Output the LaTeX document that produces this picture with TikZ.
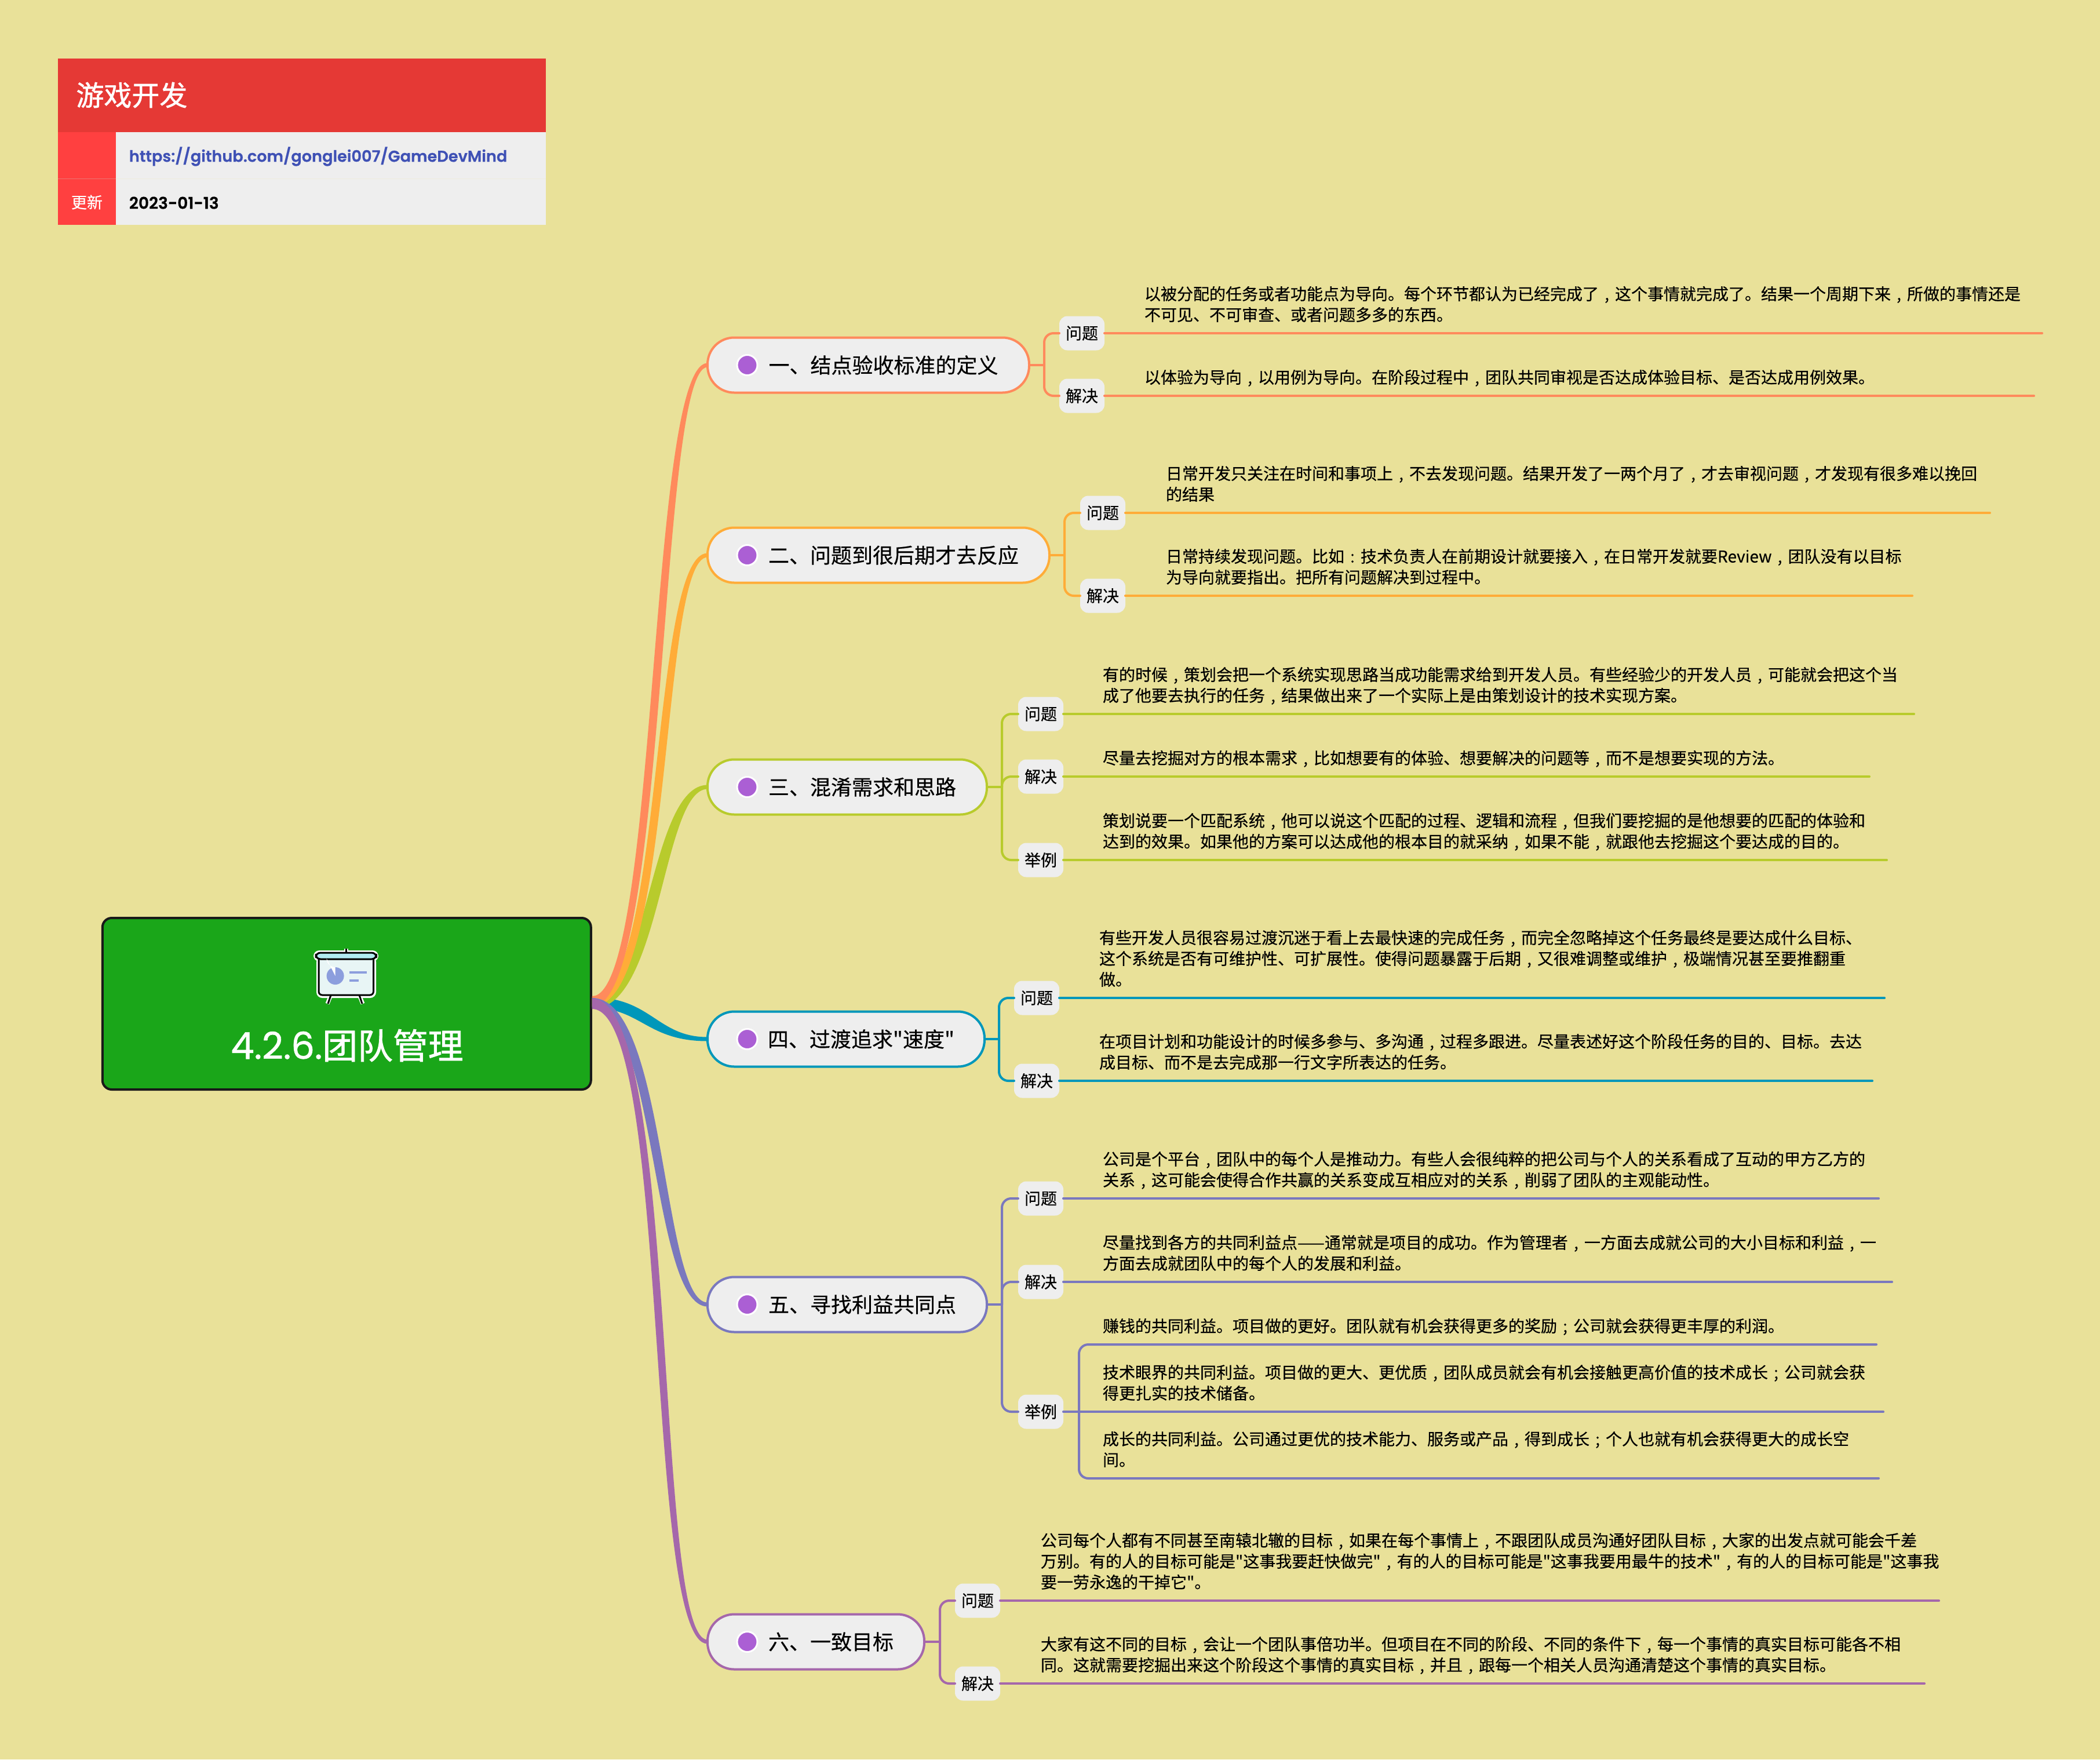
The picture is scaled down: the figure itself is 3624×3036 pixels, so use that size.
\documentclass[tikz,border=0pt]{standalone}
\usepackage{fontspec}
\setmainfont{Noto Sans CJK SC}[UprightFeatures={FakeBold=0.4}]
\newfontfamily\geofont{Poppins SemiBold}[FakeBold=0.5]
\newfontfamily\geolight{Poppins}[FakeBold=1.0]
\newfontfamily\heavyfont{Noto Sans CJK SC}[FakeBold=1.2]
\newfontfamily\qfont{Noto Sans CJK SC}[FakeBold=0.4]
\newcommand{\qq}{{\qfont"}}
\usetikzlibrary{calc}
\definecolor{bgc}{HTML}{E9E199}
\definecolor{redA}{HTML}{E53935}
\definecolor{redB}{HTML}{FF4040}
\definecolor{cellc}{HTML}{EEEEEE}
\definecolor{urlc}{HTML}{3F51B5}
\definecolor{rootc}{HTML}{1AA619}
\definecolor{cA}{HTML}{FF8A5C}
\definecolor{cB}{HTML}{FFAC38}
\definecolor{cC}{HTML}{B8CB2C}
\definecolor{cD}{HTML}{0097BA}
\definecolor{cE}{HTML}{7A78BE}
\definecolor{cF}{HTML}{A567AB}
\definecolor{dotc}{HTML}{AB5FD4}
\definecolor{barc}{HTML}{B2EBF2}
\definecolor{boardc}{HTML}{E8F5F5}
\definecolor{piec}{HTML}{8C9EDD}
\tikzset{
  rootbox/.style={draw=black!90,line width=2pt,fill=rootc,rounded corners=8pt,minimum width=421.5pt,minimum height=148pt,inner sep=0pt,outer sep=0pt},
  roottitle/.style={text=white,font=\heavyfont\fontsize{30.4}{36}\selectfont,inner sep=0pt},
  pill/.style={line width=2pt,fill=cellc,rounded corners=23pt,minimum height=47.5pt,inner sep=0pt,outer sep=0pt,font=\fontsize{18}{22}\selectfont,text=black},
  dotmark/.style={circle,draw=white,fill=dotc,line width=1.5pt,minimum size=17.5pt,inner sep=0pt},
  sublabel/.style={fill=cellc,rounded corners=7pt,minimum width=39pt,minimum height=29.5pt,inner sep=0pt,outer sep=0pt,font=\fontsize{14}{18}\selectfont,text=black},
  detail/.style={inner sep=0pt,outer sep=0pt,align=left,anchor=south west,font=\fontsize{14}{18}\selectfont,text=black},
  twig/.style={line width=2pt,line cap=round},
}
% full-width punctuation centred in its cell, as the reference prints it
\catcode`\，=\active \def，{\hbox to 1em{\hss,\hss}}
\catcode`\；=\active \def；{\hbox to 1em{\hss;\hss}}
\catcode`\：=\active \def：{\hbox to 1em{\hss:\hss}}
% branch pill: name, left, right, y, colour, text
\newcommand{\branchnode}[6]{%
  \node[pill,draw=#5,minimum width={(#3-#2)*0.5pt}] (#1) at ({(#2+#3)/2},#4) {\hspace*{26pt}#6};
  \node[dotmark] (#1d) at ([xshift=34.25pt]#1.west) {};
}
% leaf: name, label, label x, y, line end x, colour, text x, text, trunk coord
\newcommand{\leaf}[9]{%
  \node[sublabel] (#1) at (#3,#4) {#2};
  \node[detail] (#1t) at (#7,#4-10.6) {#8\strut};
  \coordinate (#1e) at (#5,#4);
  \draw[twig,#6] (#1.east) -- (#1e);
  \draw[twig,#6,rounded corners=8pt] (#9) |- (#1.west);
}
% tapered main connector: colour, target, target y, c1x, c2x, k, start y
\newcommand{\tcurve}[7]{%
  \fill[#1] ([xshift=1pt,yshift={(1732-#7+9)*0.5pt}]root.east)
    .. controls (#4-#6,#7-9) and (#5-#6,#3-3.5) .. ([yshift=1.75pt]#2.west)
    -- ([yshift=-1.75pt]#2.west)
    .. controls (#5+#6,#3+3.5) and (#4+#6,#7+9) .. ([xshift=1pt,yshift={(1732-#7-9)*0.5pt}]root.east) -- cycle;
}
\begin{document}
\begin{tikzpicture}[x=0.5pt,y=-0.5pt]
\useasboundingbox (0,0) rectangle (3624,3036);
\fill[bgc] (0,0) rectangle (3624,3036);
% header card
\fill[redA] (100,100.7) rectangle (942,228);
\fill[redB] (100,228) rectangle (199.5,388);
\fill[cellc] (199.5,228) rectangle (942,388);
\draw[redA!70!white,line width=0.3pt] (100,308) -- (199.5,308);
\draw[bgc!20!cellc,line width=0.3pt] (199.5,308) -- (942,308);
\node[anchor=west,inner sep=0pt,text=white,font=\heavyfont\fontsize{24}{28}\selectfont] (hdtitle) at (131,164) {游戏开发};
\node[anchor=west,inner sep=0pt,text=urlc,font=\geofont\fontsize{13.6}{18}\selectfont] (hdurl) at (222.5,270) {https://github.com/gonglei007/GameDevMind};
\node[anchor=center,inner sep=0pt,text=white,font=\fontsize{13.5}{18}\selectfont] (hdupd) at (150,349) {更新};
\node[anchor=west,inner sep=0pt,text=black,font=\geofont\fontsize{14}{18}\selectfont] (hddate) at (222.5,350) {2023-01-13};
% root
\node[rootbox] (root) at (598.3,1732) {};
\node[roottitle] (roottext) at (599,1804) {{\geolight\fontsize{32}{36}\selectfont 4.2.6.}团队管理};
% icon
\begin{scope}[line join=round]
\draw[white,line width=3.5pt] (597,1637) -- (597,1650);
\draw[white,line width=3.5pt] (571,1717) -- (565,1732) (620,1717) -- (626,1732);
\fill[white,rounded corners=5pt] (541,1640) rectangle (653,1659);
\fill[white,rounded corners=5pt] (546,1650) rectangle (649,1722);
\draw[black,line width=1.5pt] (597,1637) -- (597,1644);
\draw[black,line width=1.5pt] (571,1717) -- (566,1732) (620,1717) -- (625,1732);
\draw[black,fill=boardc,line width=1.5pt,rounded corners=3pt] (550,1650) rectangle (644.5,1717);
\draw[black,fill=barc,line width=1.5pt,rounded corners=4pt] (545,1644) rectangle (649.5,1655);
\fill[piec] (578.6,1684) ellipse [x radius=15,y radius=15];
\fill[white] (578.6,1684) -- (578.6,1669) arc[start angle=90,end angle=0,x radius=-15,y radius=15] -- cycle;
\fill[piec] (602.5,1675.7) rectangle (632.6,1679.7);
\fill[piec] (602.5,1689.6) rectangle (619,1693.6);
\end{scope}
% branches
\branchnode{bA}{1221}{1776}{630}{cA}{一、结点验收标准的定义}
\branchnode{bB}{1221}{1811}{958}{cB}{二、问题到很后期才去反应}
\branchnode{bC}{1221}{1703}{1358}{cC}{三、混淆需求和思路}
\branchnode{bD}{1221}{1699}{1793}{cD}{四、过渡追求\qq{}速度\qq{}}
\branchnode{bE}{1221}{1703}{2251}{cE}{五、寻找利益共同点}
\branchnode{bF}{1221}{1595}{2833}{cF}{六、一致目标}
% main connectors
\tcurve{cD}{bD}{1793}{1115}{1125}{-9}{1730}
\tcurve{cC}{bC}{1358}{1130}{1132}{11}{1732}
\tcurve{cB}{bB}{958}{1155}{1130}{8.5}{1728}
\tcurve{cA}{bA}{630}{1145}{1127}{8.5}{1728}
\tcurve{cE}{bE}{2251}{1141}{1133}{-9}{1731}
\tcurve{cF}{bF}{2833}{1165}{1120}{-8}{1732}
% twig trunks
\coordinate (trA) at (1802,630);
\coordinate (trB) at (1837,958);
\coordinate (trC) at (1729,1358);
\coordinate (trD) at (1724,1793);
\coordinate (trE) at (1729,2251);
\coordinate (trF) at (1622,2833);
\draw[twig,cA] (bA.east) -- (trA);
\draw[twig,cB] (bB.east) -- (trB);
\draw[twig,cC] (bC.east) -- (trC);
\draw[twig,cD] (bD.east) -- (trD);
\draw[twig,cE] (bE.east) -- (trE);
\draw[twig,cF] (bF.east) -- (trF);
% leaves
\leaf{aA}{问题}{1867}{575}{3524}{cA}{1975}{以被分配的任务或者功能点为导向。每个环节都认为已经完成了，这个事情就完成了。结果一个周期下来，所做的事情还是\\不可见、不可审查、或者问题多多的东西。}{trA}
\leaf{aB}{解决}{1867}{683}{3510}{cA}{1975}{以体验为导向，以用例为导向。在阶段过程中，团队共同审视是否达成体验目标、是否达成用例效果。}{trA}
\leaf{bAa}{问题}{1903}{885}{3434}{cB}{2012}{日常开发只关注在时间和事项上，不去发现问题。结果开发了一两个月了，才去审视问题，才发现有很多难以挽回\\的结果}{trB}
\leaf{bBa}{解决}{1903}{1028}{3300}{cB}{2012}{日常持续发现问题。比如：技术负责人在前期设计就要接入，在日常开发就要Review，团队没有以目标\\为导向就要指出。把所有问题解决到过程中。}{trB}
\leaf{cAa}{问题}{1796}{1232}{3303}{cC}{1903}{有的时候，策划会把一个系统实现思路当成功能需求给到开发人员。有些经验少的开发人员，可能就会把这个当\\成了他要去执行的任务，结果做出来了一个实际上是由策划设计的技术实现方案。}{trC}
\leaf{cBa}{解决}{1796}{1340}{3226}{cC}{1903}{尽量去挖掘对方的根本需求，比如想要有的体验、想要解决的问题等，而不是想要实现的方法。}{trC}
\leaf{cCa}{举例}{1796}{1484}{3256}{cC}{1903}{策划说要一个匹配系统，他可以说这个匹配的过程、逻辑和流程，但我们要挖掘的是他想要的匹配的体验和\\达到的效果。如果他的方案可以达成他的根本目的就采纳，如果不能，就跟他去挖掘这个要达成的目的。}{trC}
\leaf{dAa}{问题}{1789}{1722}{3252}{cD}{1897}{有些开发人员很容易过渡沉迷于看上去最快速的完成任务，而完全忽略掉这个任务最终是要达成什么目标、\\这个系统是否有可维护性、可扩展性。使得问题暴露于后期，又很难调整或维护，极端情况甚至要推翻重\\做。}{trD}
\leaf{dBa}{解决}{1789}{1865}{3231}{cD}{1897}{在项目计划和功能设计的时候多参与、多沟通，过程多跟进。尽量表述好这个阶段任务的目的、目标。去达\\成目标、而不是去完成那一行文字所表达的任务。}{trD}
\leaf{eAa}{问题}{1796}{2068}{3242}{cE}{1903}{公司是个平台，团队中的每个人是推动力。有些人会很纯粹的把公司与个人的关系看成了互动的甲方乙方的\\关系，这可能会使得合作共赢的关系变成互相应对的关系，削弱了团队的主观能动性。}{trE}
\leaf{eBa}{解决}{1796}{2212}{3265}{cE}{1903}{尽量找到各方的共同利益点——通常就是项目的成功。作为管理者，一方面去成就公司的大小目标和利益，一\\方面去成就团队中的每个人的发展和利益。}{trE}
\leaf{eCa}{举例}{1796}{2436}{3250}{cE}{1903}{技术眼界的共同利益。项目做的更大、更优质，团队成员就会有机会接触更高价值的技术成长；公司就会获\\得更扎实的技术储备。}{trE}
\coordinate (eSub) at (1862,2436);
\coordinate (eUp) at (3238,2320);
\coordinate (eDn) at (3242,2551);
\draw[twig,cE,rounded corners=8pt] (eSub) |- (eUp);
\draw[twig,cE,rounded corners=8pt] (eSub) |- (eDn);
\node[detail] (eCb) at (1903,2320-10.6) {赚钱的共同利益。项目做的更好。团队就有机会获得更多的奖励；公司就会获得更丰厚的利润。\strut};
\node[detail] (eCc) at (1903,2551-10.6) {成长的共同利益。公司通过更优的技术能力、服务或产品，得到成长；个人也就有机会获得更大的成长空\\间。\strut};
\leaf{fAa}{问题}{1687}{2762}{3346}{cF}{1796}{公司每个人都有不同甚至南辕北辙的目标，如果在每个事情上，不跟团队成员沟通好团队目标，大家的出发点就可能会千差\\万别。有的人的目标可能是\qq{}这事我要赶快做完\qq{}，有的人的目标可能是\qq{}这事我要用最牛的技术\qq{}，有的人的目标可能是\qq{}这事我\\要一劳永逸的干掉它\qq{}。}{trF}
\leaf{fBa}{解决}{1687}{2905}{3321}{cF}{1796}{大家有这不同的目标，会让一个团队事倍功半。但项目在不同的阶段、不同的条件下，每一个事情的真实目标可能各不相\\同。这就需要挖掘出来这个阶段这个事情的真实目标，并且，跟每一个相关人员沟通清楚这个事情的真实目标。}{trF}
\end{tikzpicture}
\end{document}
